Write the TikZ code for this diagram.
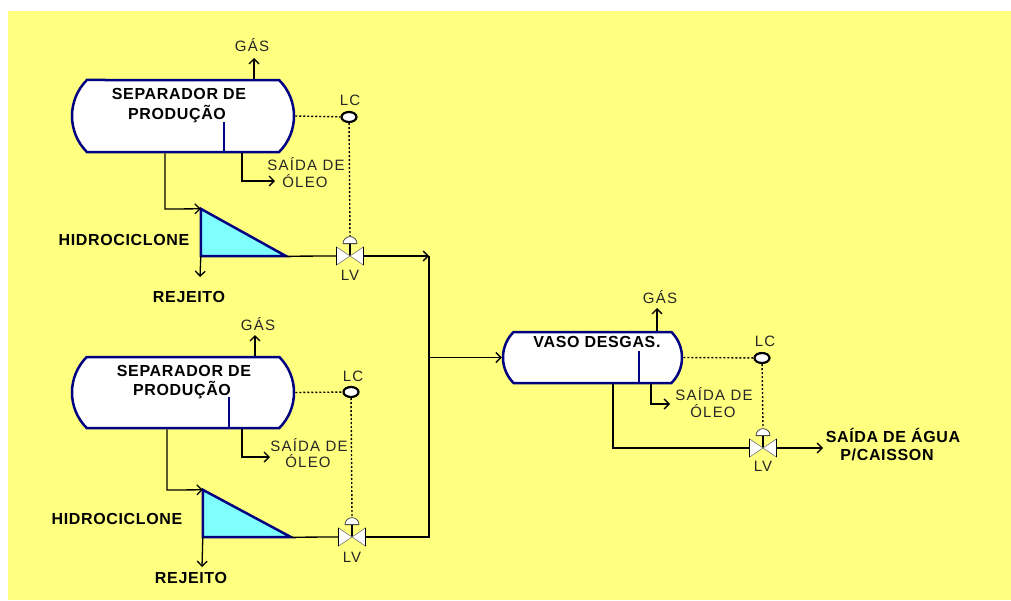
\documentclass[tikz,border=0pt]{standalone}
\usepackage{fontspec}
\setmainfont{Liberation Sans}
\newfontfamily\tagfont[LetterSpace=8]{Liberation Sans}
\newfontfamily\namefont[LetterSpace=4]{Liberation Sans}
\usepackage{xcolor}
\usetikzlibrary{shapes,shapes.misc,shapes.geometric,arrows,arrows.meta}
\definecolor{panel}{HTML}{FFFF80}
\definecolor{tank}{HTML}{000080}
\definecolor{water}{HTML}{80FFFF}
\tikzstyle{vessel} = [rounded rectangle, rounded rectangle arc length=90, draw=tank, line width=2.5pt,
                     fill=white, minimum width=222pt, inner sep=0pt]
\tikzstyle{bold} = [font=\fontsize{16}{18}\namefont\bfseries, inner sep=1pt, align=center]
\tikzstyle{tag} = [font=\fontsize{15}{17}\tagfont, text=black!85, inner sep=1pt, align=center]
\tikzstyle{pipe} = [line width=1.3pt, >={Straight Barb[length=5pt,width=10pt]}]
\tikzstyle{signal} = [line width=1.4pt, dash pattern=on 2pt off 2pt]
\tikzstyle{weir} = [line width=2.8pt, draw=tank]
\tikzstyle{ciclone} = [draw=tank, line width=2.5pt, fill=water, line join=miter]
\tikzstyle{lcbulb} = [ellipse, draw=black, line width=2.2pt, fill=white, minimum width=15pt, minimum height=10pt, inner sep=0pt]
\tikzstyle{lvbody} = [minimum width=27pt, minimum height=18pt, inner sep=0pt]
\tikzstyle{lvwing} = [fill=white, draw=black!60, line width=0.5pt]
\tikzstyle{lvedge} = [line width=1.5pt]
\tikzstyle{lvhead} = [semicircle, fill=white, draw=black!70, line width=0.8pt, minimum size=7pt, inner sep=0pt, anchor=chord center]
\begin{document}
\begin{tikzpicture}[x=1pt,y=-1pt]
\useasboundingbox (0,0) rectangle (1011,600);
\fill[panel] (8,11) rectangle (1011,600);

%Separador 1
\node[vessel, minimum height=72pt] at (183,116) (sep1){};
\node[bold] at (179,94) (sep1a){SEPARADOR DE};
\node[bold] at (177,114) (sep1b){PRODUÇÃO};
\coordinate (weir1) at (224,122);
\draw[weir] (weir1)--(weir1 |- sep1.south);
\node[tag] at (252,45) (gas1){GÁS};
\coordinate (gasend1) at (254,58);
\draw[pipe,->] (gasend1 |- sep1.north)--(gasend1);
\node[tag] at (306,164) (oil1a){SAÍDA DE};
\node[tag] at (305,181) (oil1b){ÓLEO};
\coordinate (oilend1) at (275,181);
\coordinate (oilbend1) at (242,181);
\draw[pipe,->] (oilbend1 |- sep1.south)--(oilbend1)--(oilend1);
\node[lcbulb] at (349,117) (lc1){};
\node[tag] at (350,100) (lctag1){LC};
\draw[signal] (sep1.east)--(lc1);

%Hidrociclone 1
\node[lvbody, minimum width=85pt, minimum height=47pt] at (243.5,232.5) (hc1){};
\draw[ciclone] (hc1.north west)--(hc1.south east)--(hc1.south west)--cycle;
\coordinate (feed1) at (165,209);
\draw[pipe,->] (feed1 |- sep1.south)--(feed1)--(hc1.north west);
\node[bold] at (124,240) (hctag1){HIDROCICLONE};
\node[bold] at (189,297) (rej1){REJEITO};
\coordinate (rejend1) at (200,277);
\draw[pipe,->] (hc1.south west)--(rejend1);

%LV 1
\node[lvbody] at (350,256) (lv1){};
\node[lvhead] at (350,244) (head1){};
\draw[pipe] (head1.chord center)--(lv1.center);
\draw[lvwing] (lv1.north west)--(lv1.center)--(lv1.south west)--cycle;
\draw[lvwing] (lv1.north east)--(lv1.center)--(lv1.south east)--cycle;
\draw[lvedge] (lv1.north west)--(lv1.south west);
\draw[lvedge] (lv1.north east)--(lv1.south east);
\node[tag] at (350,275) (lvtag1){LV};
\draw[signal] (lc1)--(head1.north);
\draw[pipe] (hc1.south east)--(lv1.west);

%Separador 2
\node[vessel, minimum height=71pt] at (183,392.5) (sep2){};
\node[bold] at (184,371) (sep2a){SEPARADOR DE};
\node[bold] at (182,390) (sep2b){PRODUÇÃO};
\coordinate (weir2) at (229,397);
\draw[weir] (weir2)--(weir2 |- sep2.south);
\node[tag] at (258,324) (gas2){GÁS};
\coordinate (gasend2) at (255,335);
\draw[pipe,->] (gasend2 |- sep2.north)--(gasend2);
\node[tag] at (309,445) (oil2a){SAÍDA DE};
\node[tag] at (308,461) (oil2b){ÓLEO};
\coordinate (oilend2) at (270,457);
\coordinate (oilbend2) at (242,457);
\draw[pipe,->] (oilbend2 |- sep2.south)--(oilbend2)--(oilend2);
\node[lcbulb] at (351,392) (lc2){};
\node[tag] at (353,376) (lctag2){LC};
\draw[signal] (sep2.east)--(lc2);

%Hidrociclone 2
\node[lvbody, minimum width=88pt, minimum height=47pt] at (247,513.5) (hc2){};
\draw[ciclone] (hc2.north west)--(hc2.south east)--(hc2.south west)--cycle;
\coordinate (feed2) at (167,490);
\draw[pipe,->] (feed2 |- sep2.south)--(feed2)--(hc2.north west);
\node[bold] at (117,519) (hctag2){HIDROCICLONE};
\node[bold] at (191,578) (rej2){REJEITO};
\coordinate (rejend2) at (202,567);
\draw[pipe,->] (hc2.south west)--(rejend2);

%LV 2
\node[lvbody] at (352,537) (lv2){};
\node[lvhead] at (352,525) (head2){};
\draw[pipe] (head2.chord center)--(lv2.center);
\draw[lvwing] (lv2.north west)--(lv2.center)--(lv2.south west)--cycle;
\draw[lvwing] (lv2.north east)--(lv2.center)--(lv2.south east)--cycle;
\draw[lvedge] (lv2.north west)--(lv2.south west);
\draw[lvedge] (lv2.north east)--(lv2.south east);
\node[tag] at (352,557) (lvtag2){LV};
\draw[signal] (lc2)--(head2.north);
\draw[pipe] (hc2.south east)--(lv2.west);

%Vaso
\node[vessel, minimum width=179pt, minimum height=51pt] at (592.5,357.5) (vaso){};
\node[bold] at (597,342) (vasotag){VASO DESGAS.};
\coordinate (weir3) at (639,351);
\draw[weir] (weir3)--(weir3 |- vaso.south);
\node[tag] at (660,297) (gas3){GÁS};
\coordinate (gasend3) at (657,308);
\draw[pipe,->] (gasend3 |- vaso.north)--(gasend3);
\node[tag] at (714,394) (oil3a){SAÍDA DE};
\node[tag] at (713,411) (oil3b){ÓLEO};
\coordinate (oilend3) at (670,404);
\coordinate (oilbend3) at (651,404);
\draw[pipe,->] (oilbend3 |- vaso.south)--(oilbend3)--(oilend3);
\node[lcbulb] at (762,358) (lc3){};
\node[tag] at (765,341) (lctag3){LC};
\draw[signal] (vaso.east)--(lc3);

%LV 3
\node[lvbody] at (763,448) (lv3){};
\node[lvhead] at (763,436) (head3){};
\draw[pipe] (head3.chord center)--(lv3.center);
\draw[lvwing] (lv3.north west)--(lv3.center)--(lv3.south west)--cycle;
\draw[lvwing] (lv3.north east)--(lv3.center)--(lv3.south east)--cycle;
\draw[lvedge] (lv3.north west)--(lv3.south west);
\draw[lvedge] (lv3.north east)--(lv3.south east);
\node[tag] at (763,466) (lvtag3){LV};
\draw[signal] (lc3)--(head3.north);
\coordinate (drain) at (613,448);
\draw[pipe] (drain |- vaso.south)--(drain)--(lv3.west);
\coordinate (aguaend) at (823,448);
\draw[pipe,->] (lv3.east)--(aguaend);
\node[bold] at (893,435) (agua1){SAÍDA DE ÁGUA};
\node[bold] at (887,455) (agua2){P/CAISSON};

%Coletor
\coordinate (header1) at (429,256);
\coordinate (header2) at (429,537);
\draw[pipe,->] (lv1.east)--(header1);
\draw[pipe] (lv2.east)--(header2)--(header1);
\draw[pipe,->] (header1 |- vaso.west)--(vaso.west);

\end{tikzpicture}
\end{document}
